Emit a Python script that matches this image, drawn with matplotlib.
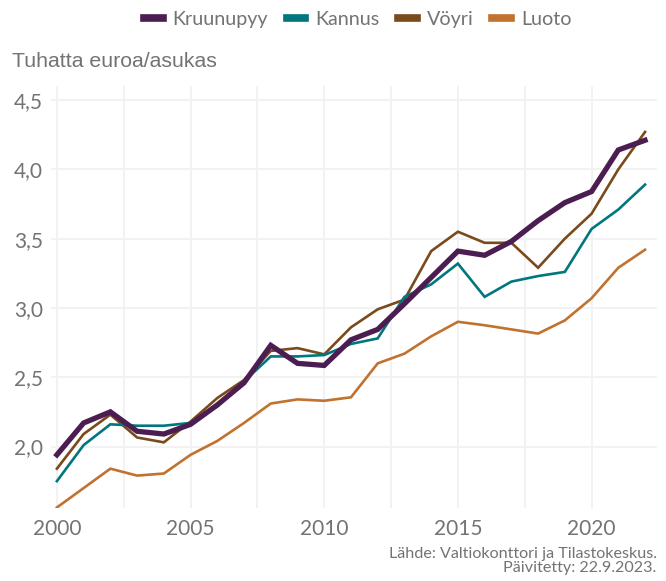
import matplotlib.pyplot as plt
from matplotlib.ticker import FuncFormatter, MultipleLocator
from matplotlib.lines import Line2D

years = list(range(2000, 2023))

kruunupyy = [1.94, 2.17, 2.25, 2.11, 2.09, 2.16, 2.30, 2.46, 2.73, 2.60, 2.585, 2.77,
             2.845, 3.03, 3.22, 3.41, 3.38, 3.48, 3.63, 3.76, 3.84, 4.14, 4.21]
kannus = [1.75, 2.01, 2.16, 2.15, 2.15, 2.17, 2.29, 2.47, 2.65, 2.65, 2.66, 2.74,
          2.78, 3.08, 3.17, 3.32, 3.08, 3.19, 3.23, 3.26, 3.57, 3.71, 3.89]
voyri = [1.84, 2.09, 2.23, 2.065, 2.03, 2.18, 2.35, 2.48, 2.69, 2.71, 2.665, 2.86,
         2.99, 3.06, 3.41, 3.55, 3.47, 3.47, 3.29, 3.50, 3.68, 4.00, 4.27]
luoto = [1.56, 1.70, 1.84, 1.79, 1.805, 1.94, 2.04, 2.17, 2.31, 2.34, 2.33, 2.355,
         2.60, 2.67, 2.795, 2.90, 2.875, 2.845, 2.815, 2.91, 3.07, 3.29, 3.42]

names = ["Kruunupyy", "Kannus", "Vöyri", "Luoto"]
series = [kruunupyy, kannus, voyri, luoto]
colors = ["#4b1d50", "#00777f", "#7a4a1b", "#c0722e"]
widths = [3.8, 1.9, 1.9, 1.9]

grey = "#737373"
tickfont = "Lato"

fig = plt.figure(figsize=(6.66, 5.81), dpi=100)
ax = fig.add_axes([0.0766, 0.1256, 0.91, 0.726])

# Luoto at the back, Kruunupyy drawn last
for name, vals, c, w in zip(names[::-1], series[::-1], colors[::-1], widths[::-1]):
    ax.plot(years, vals, color=c, lw=w, solid_joinstyle="miter", zorder=3)

ax.set_xlim(1999.78, 2022.45)
ax.set_ylim(1.556, 4.60)

ax.xaxis.set_major_locator(MultipleLocator(5))
ax.xaxis.set_minor_locator(MultipleLocator(2.5))
ax.yaxis.set_major_locator(MultipleLocator(0.5))
ax.yaxis.set_major_formatter(FuncFormatter(lambda v, p: f"{v:.1f}".replace(".", ",")))

ax.grid(True, which="both", axis="x", color="#f2f2f2", lw=1.4)
ax.grid(True, which="major", axis="y", color="#f2f2f2", lw=1.4)
ax.set_axisbelow(True)
for s in ax.spines.values():
    s.set_visible(False)
ax.tick_params(which="both", length=0)
ax.tick_params(axis="x", pad=8)
ax.tick_params(axis="y", pad=6)
for lab in ax.get_xticklabels() + ax.get_yticklabels():
    lab.set_fontfamily(tickfont)
    lab.set_fontsize(15)
    lab.set_color(grey)

fig.text(0.018, 0.895, "Tuhatta euroa/asukas", fontsize=15.3, color=grey,
         family=["Liberation Sans", "DejaVu Sans"], ha="left", va="center")

handles = [Line2D([0], [0], color=c, lw=5.5) for c in colors]
leg = fig.legend(handles, names, loc="center", bbox_to_anchor=(0.537, 0.966), ncol=4,
                 frameon=False, handlelength=0.95, handletextpad=0.5, columnspacing=0.95,
                 prop={"family": tickfont, "size": 14.2})
for t in leg.get_texts():
    t.set_color(grey)

fig.text(0.986, 0.035, "Lähde: Valtiokonttori ja Tilastokeskus.\nPäivitetty: 22.9.2023.",
         ha="right", va="center", fontsize=11.6, color=grey, family=tickfont,
         linespacing=1.0)

fig.savefig("out.png", dpi=100)
